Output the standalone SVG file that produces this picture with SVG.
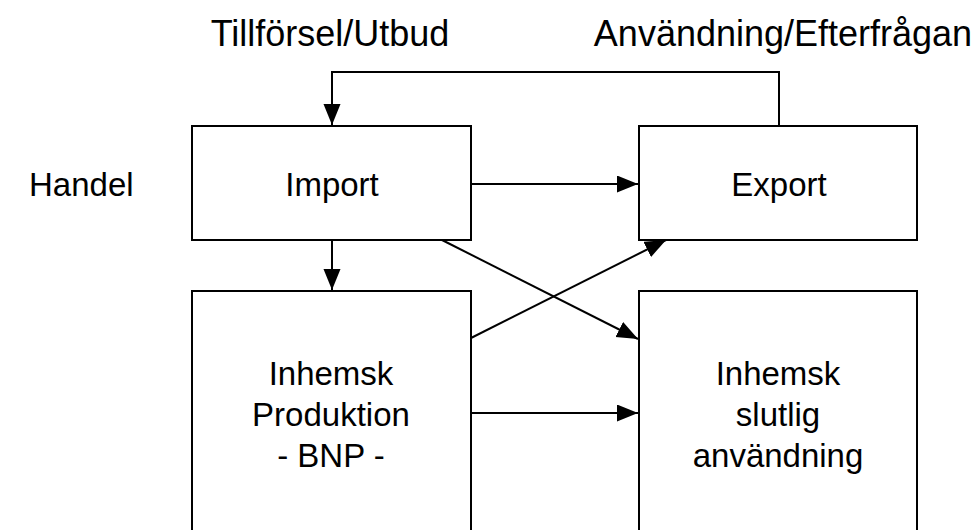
<svg xmlns="http://www.w3.org/2000/svg" width="974" height="530" viewBox="0 0 974 530">
  <defs>
    <marker id="arrow" markerUnits="userSpaceOnUse" markerWidth="22" markerHeight="18" refX="21" refY="8.5" orient="auto">
      <path d="M0,0 L21,8.5 L0,17 Z" fill="#000"/>
    </marker>
  </defs>
  <style>
    .box { fill: #fff; stroke: #000; stroke-width: 2; }
    .edge { fill: none; stroke: #000; stroke-width: 2; marker-end: url(#arrow); }
    text { font-family: "Liberation Sans", Arial, Helvetica, sans-serif; font-size: 33px; fill: #000; }
    .head { font-size: 36px; }
    .c { text-anchor: middle; }
  </style>
  <rect width="974" height="530" fill="#fff"/>

  <!-- column and row headings -->
  <g id="labels">
    <text class="c head" x="330" y="46">Tillförsel/Utbud</text>
    <text class="c head" x="783" y="46">Användning/Efterfrågan</text>
    <text x="29" y="196">Handel</text>
  </g>

  <g id="import">
    <rect class="box" x="192" y="126" width="279" height="114"/>
    <text class="c" x="332" y="196">Import</text>
  </g>

  <g id="export">
    <rect class="box" x="639" y="126" width="278" height="114"/>
    <text class="c" x="779" y="196">Export</text>
  </g>

  <g id="produktion">
    <rect class="box" x="192" y="291" width="279" height="260"/>
    <text class="c" x="331" y="385">Inhemsk</text>
    <text class="c" x="331" y="426">Produktion</text>
    <text class="c" x="331" y="467">- BNP -</text>
  </g>

  <g id="anvandning">
    <rect class="box" x="639" y="291" width="278" height="260"/>
    <text class="c" x="778" y="385">Inhemsk</text>
    <text class="c" x="778" y="426">slutlig</text>
    <text class="c" x="778" y="467">användning</text>
  </g>

  <g id="connectors">
    <polyline class="edge" points="779,126 779,72 332,72 332,125"/>
    <line class="edge" x1="471" y1="184" x2="638" y2="184"/>
    <line class="edge" x1="332" y1="240" x2="332" y2="290"/>
    <line class="edge" x1="442" y1="240" x2="638" y2="339"/>
    <line class="edge" x1="471" y1="338" x2="666" y2="240"/>
    <line class="edge" x1="471" y1="413" x2="638" y2="413"/>
  </g>
</svg>
